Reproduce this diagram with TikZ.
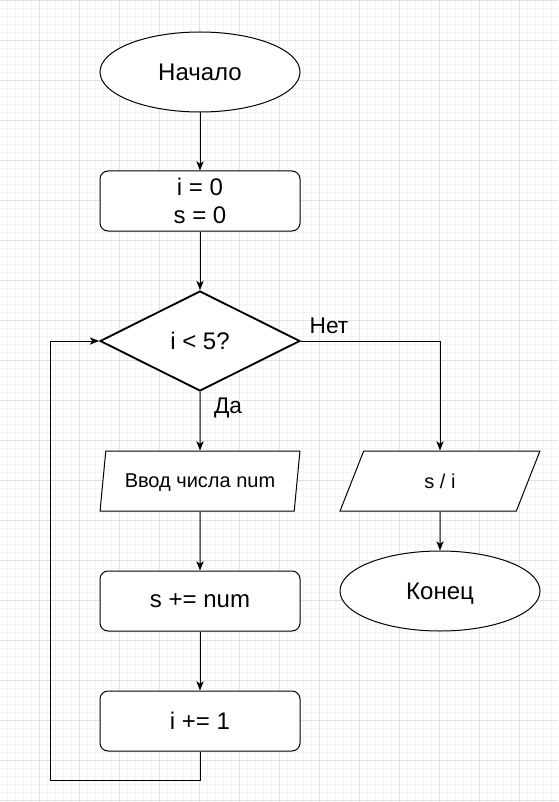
\documentclass[tikz,border=0pt]{standalone}
\usepackage{fontspec}
\setmainfont{Liberation Sans}
\usetikzlibrary{positioning, shapes.geometric, arrows.meta, calc}
\definecolor{gridminor}{HTML}{F4F4F4}
\definecolor{gridmajor}{HTML}{E2E2E2}
\tikzset{
  term/.style={draw, ellipse, line width=0.75pt, minimum width=150pt, minimum height=60pt, inner sep=0pt, text depth=0pt, font=\fontsize{18}{21}\selectfont},
  proc/.style={draw, rectangle, rounded corners=6pt, line width=0.75pt, minimum width=150pt, minimum height=45pt, align=center, font=\fontsize{18}{21}\selectfont},
  cond/.style={draw, diamond, line width=1.4pt, minimum width=150pt, minimum height=75pt, inner sep=0pt, font=\fontsize{18}{21}\selectfont},
  io/.style={draw, trapezium, trapezium left angle=71.6, trapezium right angle=108.4, trapezium stretches=true, line width=0.75pt, minimum width=150pt, minimum height=45pt, inner sep=0pt, text depth=0pt, font=\fontsize{15}{18}\selectfont},
  flow/.style={-{Stealth[length=7pt, width=5.5pt, inset=2pt]}, line width=0.75pt},
  lbl/.style={font=\fontsize{17}{20}\selectfont}
}
\begin{document}
\begin{tikzpicture}[x=0.75pt, y=-0.75pt]
  \useasboundingbox (0,0) rectangle (558,802);
  % background grid
  \foreach \k in {0,...,70} {
    \draw[gridminor, line width=0.75pt] ({\k*8-0.5},0) -- ({\k*8-0.5},802);
  }
  \foreach \k in {0,...,101} {
    \draw[gridminor, line width=0.75pt] (0,{\k*8+0.5}) -- (558,{\k*8+0.5});
  }
  \foreach \k in {0,...,14} {
    \draw[gridmajor, line width=0.75pt] ({\k*40-0.5},0) -- ({\k*40-0.5},802);
  }
  \foreach \k in {0,...,20} {
    \draw[gridmajor, line width=0.75pt] (0,{\k*40+0.5}) -- (558,{\k*40+0.5});
  }
  % blocks
  \node[term, fill=white] (start) at (200,72) {Начало};
  \node[proc, fill=white] (init) at (200,201) {i = 0\\s = 0};
  \node[cond, fill=white] (check) at (200,341) {i < 5?};
  \node[io, fill=white] (input) at (200,481) {Ввод числа num};
  \node[proc, fill=white] (sum) at (200,601) {s += num};
  \node[proc, fill=white] (inc) at (200,721) {i += 1};
  \node[io, fill=white] (output) at (440,481) {s / i};
  \node[term, fill=white] (finish) at (440,591) {Конец};
  \coordinate (loopL) at (50,780);
  % connectors
  \draw[flow] (start) -- (init);
  \draw[flow] (init) -- (check);
  \draw[flow] (check.south) -- (input.north);
  \draw[flow] (input.south) -- (sum.north);
  \draw[flow] (sum) -- (inc);
  \draw[flow] (inc.south) |- (loopL) |- (check.west);
  \draw[flow] (check.east) -| (output.north);
  \draw[flow] (output.south) -- (finish.north);
  % labels
  \node[lbl] (yes) at (228,408) {Да};
  \node[lbl] (no) at (329,326) {Нет};
\end{tikzpicture}
\end{document}
